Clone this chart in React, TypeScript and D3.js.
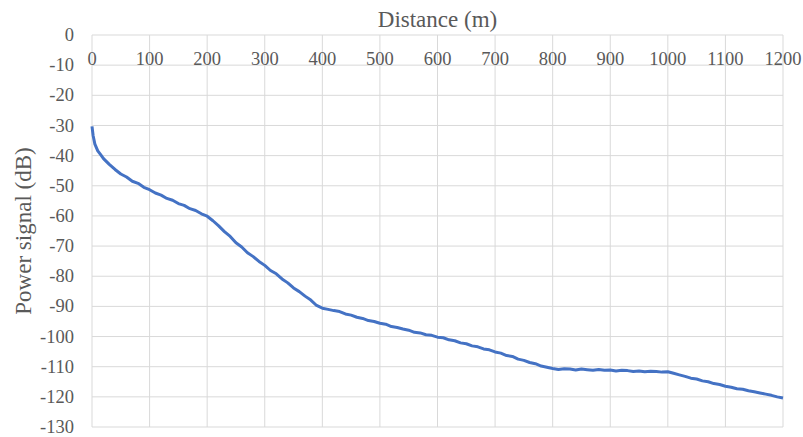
import * as d3 from "d3";
import { useEffect, useRef } from "react";

// distance (m) and received power (dB)
const distances = [
  0, 2, 5, 10, 15, 20, 30, 40, 50, 60, 70, 80, 90, 100, 110, 120, 130, 140, 150, 160, 170, 180, 190,
  200, 210, 220, 230, 240, 250, 260, 270, 280, 290, 300, 310, 320, 330, 340, 350, 360, 370, 380, 390,
  400, 410, 420, 430, 440, 450, 460, 470, 480, 490, 500, 510, 520, 530, 540, 550, 560, 570, 580, 590,
  600, 610, 620, 630, 640, 650, 660, 670, 680, 690, 700, 710, 720, 730, 740, 750, 760, 770, 780, 790,
  800, 810, 820, 830, 840, 850, 860, 870, 880, 890, 900, 910, 920, 930, 940, 950, 960, 970, 980, 990,
  1000, 1010, 1020, 1030, 1040, 1050, 1060, 1070, 1080, 1090, 1100, 1110, 1120, 1130, 1140, 1150, 1160,
  1170, 1180, 1190, 1200,
];
const power = [
  -30.3, -33.4, -36.2, -38.4, -39.7, -41.0, -42.9, -44.6, -46.1, -47.1, -48.5, -49.2, -50.5, -51.3,
  -52.4, -53.1, -54.2, -54.8, -55.9, -56.5, -57.6, -58.2, -59.3, -60.1, -61.6, -63.3, -65.2, -66.8,
  -68.9, -70.3, -72.2, -73.5, -75.1, -76.4, -78.1, -79.2, -80.9, -82.2, -83.9, -85.1, -86.6, -87.9,
  -89.7, -90.6, -91.0, -91.4, -91.7, -92.5, -92.9, -93.6, -94.0, -94.7, -95.0, -95.6, -95.9, -96.7,
  -97.0, -97.5, -97.9, -98.6, -98.8, -99.4, -99.6, -100.2, -100.4, -101.1, -101.4, -102.1, -102.4,
  -103.1, -103.4, -104.1, -104.4, -105.1, -105.5, -106.3, -106.6, -107.5, -107.9, -108.6, -109.0,
  -109.8, -110.2, -110.6, -110.9, -110.7, -110.8, -111.1, -110.8, -111.0, -111.2, -110.9, -111.2,
  -111.1, -111.4, -111.2, -111.3, -111.6, -111.4, -111.7, -111.5, -111.6, -111.8, -111.7, -112.2,
  -112.7, -113.2, -113.8, -114.1, -114.7, -115.0, -115.6, -115.9, -116.5, -116.8, -117.3, -117.5,
  -118.0, -118.3, -118.7, -119.1, -119.5, -120.0, -120.4,
];
const xTicks = [0, 100, 200, 300, 400, 500, 600, 700, 800, 900, 1000, 1100, 1200];
const yTicks = [0, -10, -20, -30, -40, -50, -60, -70, -80, -90, -100, -110, -120, -130];

export default function App() {
  const ref = useRef<HTMLDivElement>(null);

  useEffect(() => {
    const width = 803;
    const height = 437;
    const margin = { top: 35, right: 20, bottom: 10, left: 92 };
    const textColor = "#595959";
    const gridColor = "#d9d9d9";
    const font = "'Liberation Serif', 'Times New Roman', serif";

    d3.select(ref.current).select("svg").remove();

    const svg = d3
      .select(ref.current)
      .append("svg")
      .attr("width", width)
      .attr("height", height)
      .style("position", "absolute")
      .style("left", "0px")
      .style("top", "0px")
      .style("font-family", font);

    const x = d3
      .scaleLinear()
      .domain([0, 1200])
      .range([margin.left, width - margin.right]);

    const y = d3
      .scaleLinear()
      .domain([0, -130])
      .range([margin.top, height - margin.bottom]);

    // grid
    svg
      .append("g")
      .selectAll("line")
      .data(xTicks)
      .enter()
      .append("line")
      .attr("x1", (d) => x(d))
      .attr("x2", (d) => x(d))
      .attr("y1", y(0))
      .attr("y2", y(-130))
      .attr("stroke", gridColor)
      .attr("stroke-width", 1);

    svg
      .append("g")
      .selectAll("line")
      .data(yTicks)
      .enter()
      .append("line")
      .attr("x1", x(0))
      .attr("x2", x(1200))
      .attr("y1", (d) => y(d))
      .attr("y2", (d) => y(d))
      .attr("stroke", gridColor)
      .attr("stroke-width", 1);

    // tick labels
    svg
      .append("g")
      .selectAll("text")
      .data(xTicks)
      .enter()
      .append("text")
      .attr("x", (d) => x(d))
      .attr("y", 65)
      .attr("text-anchor", "middle")
      .style("font-size", "18.5px")
      .attr("fill", textColor)
      .text((d) => d);

    svg
      .append("g")
      .selectAll("text")
      .data(yTicks)
      .enter()
      .append("text")
      .attr("x", 74)
      .attr("y", (d) => y(d))
      .attr("dy", "0.33em")
      .attr("text-anchor", "end")
      .style("font-size", "18.5px")
      .attr("fill", textColor)
      .text((d) => d);

    // axis titles
    svg
      .append("text")
      .attr("x", (x(0) + x(1200)) / 2)
      .attr("y", 27)
      .attr("text-anchor", "middle")
      .style("font-size", "23px")
      .attr("fill", textColor)
      .text("Distance (m)");

    svg
      .append("text")
      .attr("transform", `translate(31,${(y(0) + y(-130)) / 2}) rotate(-90)`)
      .attr("text-anchor", "middle")
      .style("font-size", "23px")
      .attr("fill", textColor)
      .text("Power signal (dB)");

    // trace
    const line = d3
      .line<number>()
      .x((d, i) => x(distances[i]))
      .y((d) => y(d));

    svg
      .append("path")
      .datum(power)
      .attr("d", line)
      .attr("fill", "none")
      .attr("stroke", "#4472C4")
      .attr("stroke-width", 3)
      .attr("stroke-linejoin", "round");
  }, []);

  return <div ref={ref}></div>;
}
